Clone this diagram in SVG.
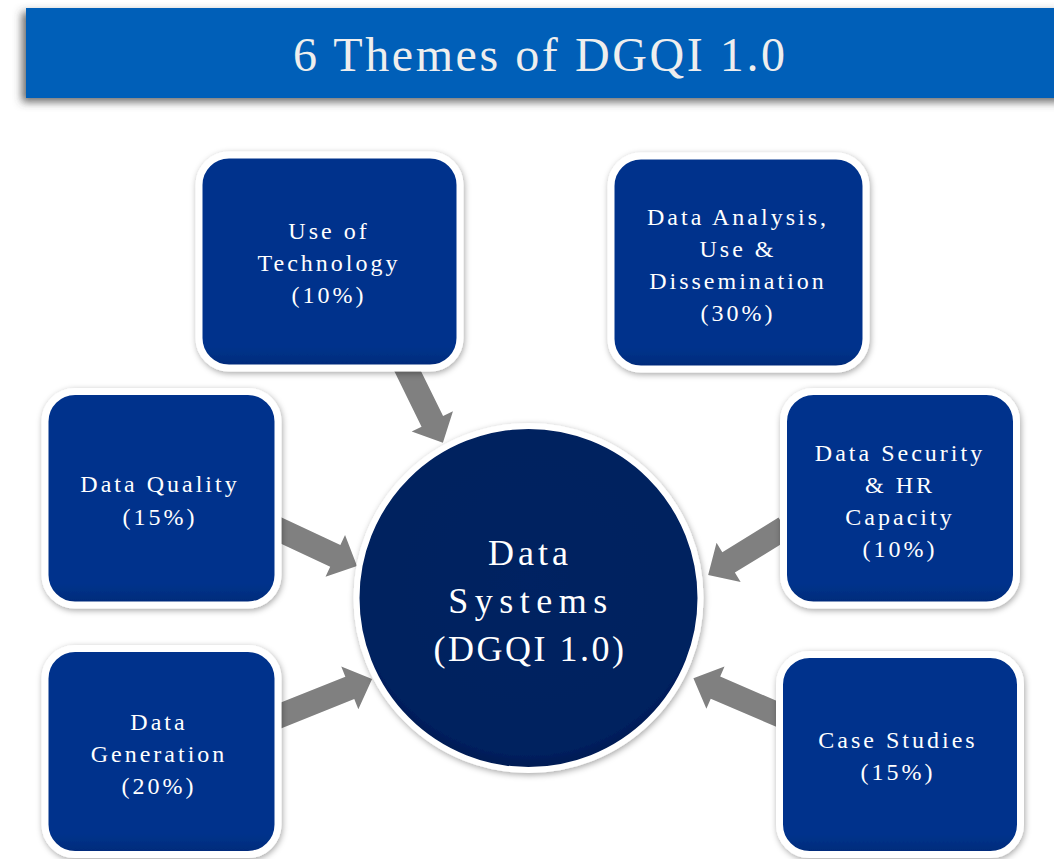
<svg xmlns="http://www.w3.org/2000/svg" width="1054" height="859" viewBox="0 0 1054 859">
  <defs>
    <style>
      .box { fill: url(#boxg); stroke: #ffffff; stroke-width: 7; filter: url(#sh); }
      .lbl { font-family: "Liberation Serif", "Times New Roman", serif; font-size: 24px; fill: #ffffff; text-anchor: middle; letter-spacing: 3px; }
      .big { font-family: "Liberation Serif", "Times New Roman", serif; font-size: 36px; fill: #ffffff; text-anchor: middle; letter-spacing: 4px; }
      .arr { fill: #808080; }
    </style>
    <linearGradient id="boxg" x1="0" y1="0" x2="0" y2="1">
      <stop offset="0" stop-color="#00338C"/>
      <stop offset="0.9" stop-color="#00338C"/>
      <stop offset="1" stop-color="#002A78"/>
    </linearGradient>
    <radialGradient id="circg" cx="0.5" cy="0.45" r="0.55">
      <stop offset="0" stop-color="#002262"/>
      <stop offset="0.92" stop-color="#00205E"/>
      <stop offset="1" stop-color="#001A50"/>
    </radialGradient>
    <filter id="sh" x="-10%" y="-10%" width="120%" height="120%">
      <feDropShadow dx="1" dy="2" stdDeviation="3" flood-color="#000000" flood-opacity="0.35"/>
    </filter>
    <filter id="tsh" x="-5%" y="-30%" width="110%" height="160%">
      <feDropShadow dx="-4" dy="4" stdDeviation="4" flood-color="#444444" flood-opacity="0.8"/>
    </filter>
  </defs>
  <rect x="0" y="0" width="1054" height="859" fill="#ffffff"/>

  <g id="title">
    <rect x="26" y="8" width="1040" height="90" fill="#005EB8" filter="url(#tsh)"/>
    <text x="539" y="71" font-family="Liberation Serif, Times New Roman, serif" font-size="48" fill="#EEEEEE" text-anchor="middle" textLength="492" lengthAdjust="spacing">6 Themes of DGQI 1.0</text>
  </g>

  <g id="connectors">
    <polygon class="arr" transform="translate(404.5,364.8) rotate(63.8)" points="0,-12 63,-12 63,-23 87,0 63,23 63,12 0,12"/>
    <polygon class="arr" transform="translate(272.8,526.6) rotate(25.1)" points="0,-12 69,-12 69,-23 93,0 69,23 69,12 0,12"/>
    <polygon class="arr" transform="translate(274.6,718) rotate(-21.8)" points="0,-12 81,-12 81,-23 105,0 81,23 81,12 0,12"/>
    <polygon class="arr" transform="translate(784.8,527.8) rotate(148.4)" points="0,-12 66,-12 66,-23 90,0 66,23 66,12 0,12"/>
    <polygon class="arr" transform="translate(784.4,717.2) rotate(203.2)" points="0,-12 75,-12 75,-23 99,0 75,23 75,12 0,12"/>
  </g>

  <g id="node-tech">
    <rect class="box" x="199" y="155" width="261" height="213" rx="30"/>
    <text class="lbl" x="329" y="239">Use of</text>
    <text class="lbl" x="329" y="271">Technology</text>
    <text class="lbl" x="329" y="303">(10%)</text>
  </g>

  <g id="node-analysis">
    <rect class="box" x="611" y="156" width="255" height="213" rx="30"/>
    <text class="lbl" x="738" y="225">Data Analysis,</text>
    <text class="lbl" x="738" y="257">Use &amp;</text>
    <text class="lbl" x="738" y="289">Dissemination</text>
    <text class="lbl" x="738" y="321">(30%)</text>
  </g>

  <g id="node-quality">
    <rect class="box" x="45" y="391.5" width="233" height="213.5" rx="30"/>
    <text class="lbl" x="160" y="492">Data Quality</text>
    <text class="lbl" x="160" y="525">(15%)</text>
  </g>

  <g id="node-security">
    <rect class="box" x="783.5" y="391.5" width="233" height="213.5" rx="30"/>
    <text class="lbl" x="900" y="461">Data Security</text>
    <text class="lbl" x="900" y="493">&amp; HR</text>
    <text class="lbl" x="900" y="525">Capacity</text>
    <text class="lbl" x="900" y="557">(10%)</text>
  </g>

  <g id="node-generation">
    <rect class="box" x="45" y="648.5" width="233" height="206" rx="30"/>
    <text class="lbl" x="159" y="730">Data</text>
    <text class="lbl" x="159" y="762">Generation</text>
    <text class="lbl" x="159" y="794">(20%)</text>
  </g>

  <g id="node-case">
    <rect class="box" x="779.5" y="654.5" width="241" height="200" rx="30"/>
    <text class="lbl" x="898" y="748">Case Studies</text>
    <text class="lbl" x="898" y="780">(15%)</text>
  </g>

  <g id="node-center">
    <circle cx="528.5" cy="598" r="172" fill="url(#circg)" stroke="#ffffff" stroke-width="6" filter="url(#sh)"/>
    <text class="big" x="530" y="565">Data</text>
    <text class="big" x="531" y="613" style="letter-spacing:6.5px">Systems</text>
    <text class="big" x="530" y="661" style="letter-spacing:2.5px">(DGQI 1.0)</text>
  </g>
</svg>
